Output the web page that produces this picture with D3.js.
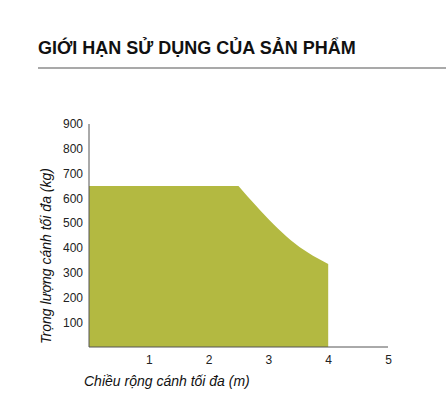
<html>
<meta charset="utf-8" />
<head>
<style>
body { margin: 0; background: #fff; }
svg { display: block; }
svg text { font-family: "Liberation Sans", Arial, sans-serif; }
.tick text { font-size: 12px; fill: #222; }
</style>
<script src="https://d3js.org/d3.v7.min.js" charset="utf-8"></script>
</head>
<body>
<svg class="chart"></svg>
<script>
var chartWidth = 446;
var chartHeight = 405;

// data
var widths  = [0, 2.5, 2.79, 3.09, 3.38, 3.66, 4.0];
var weights = [650, 650, 571, 494, 430, 381, 335];

var xTicks = [1, 2, 3, 4, 5];
var yTicks = [100, 200, 300, 400, 500, 600, 700, 800, 900];

var title = "GIỚI HẠN SỬ DỤNG CỦA SẢN PHẨM";
var xLabel = "Chiều rộng cánh tối đa (m)";
var yLabel = "Trọng lượng cánh tối đa (kg)";

var svg = d3.select(".chart")
    .attr("width", chartWidth)
    .attr("height", chartHeight);

// title + rule
svg.append("text")
    .attr("x", 38)
    .attr("y", 54)
    .style("font-size", "18px")
    .style("font-weight", "bold")
    .style("fill", "#111")
    .text(title);

svg.append("line")
    .attr("x1", 38).attr("x2", 446)
    .attr("y1", 68).attr("y2", 68)
    .attr("stroke", "#555")
    .attr("stroke-width", 1.2);

/**********
 * Scales *
 **********/
var x = d3.scaleLinear().domain([0, 5]).range([89, 388]);
var y = d3.scaleLinear().domain([0, 900]).range([347, 124]);

var data = widths.map(function(w, i) { return {w: w, kg: weights[i]}; });

// flat part is straight, the drop-off after 2.5 m is a smooth curve
var topLine = d3.line()
    .x(function(d) { return x(d.w); })
    .y(function(d) { return y(d.kg); })
    .curve(d3.curveMonotoneX);

var first = data[0], last = data[data.length - 1];
var d = "M" + x(first.w) + "," + y(0) +
        "L" + x(first.w) + "," + y(first.kg) +
        "L" + topLine(data.slice(1)).slice(1) +
        "L" + x(last.w) + "," + y(0) + "Z";

svg.append("path")
    .attr("d", d)
    .attr("fill", "#b3b941");

/********
 * Axes *
 ********/
var xAxis = svg.append("g")
    .attr("transform", "translate(0," + y(0) + ")")
    .call(d3.axisBottom(x).tickValues(xTicks).tickFormat(d3.format("d"))
      .tickSize(0).tickPadding(8));
xAxis.select(".domain").attr("stroke", "#555").attr("d", "M" + x(0) + ",0H" + x(5));

var yAxis = svg.append("g")
    .attr("transform", "translate(" + x(0) + ",0)")
    .call(d3.axisLeft(y).tickValues(yTicks).tickFormat(d3.format("d"))
      .tickSize(0).tickPadding(6));
yAxis.select(".domain").attr("stroke", "#555").attr("d", "M0," + y(0) + "V" + y(900));

svg.append("text")
    .attr("transform", "translate(51,256) rotate(-90)")
    .attr("text-anchor", "middle")
    .style("font-size", "14px")
    .style("font-style", "italic")
    .style("fill", "#111")
    .text(yLabel);

svg.append("text")
    .attr("x", 84)
    .attr("y", 386)
    .style("font-size", "14px")
    .style("font-style", "italic")
    .style("fill", "#111")
    .text(xLabel);
</script>
</body>
</html>
